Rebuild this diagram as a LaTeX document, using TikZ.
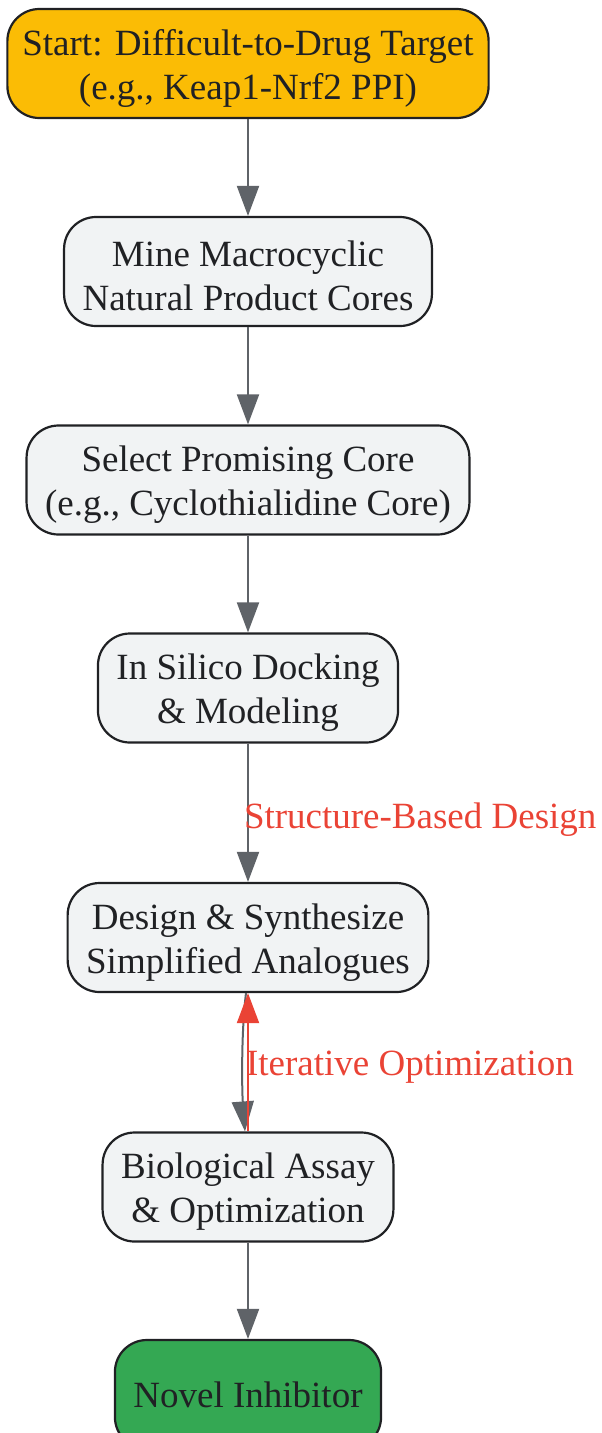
\documentclass[tikz,border=0pt]{standalone}
\usepackage{fontspec}
\setmainfont{Liberation Serif}
\usetikzlibrary{arrows.meta}
\definecolor{startyellow}{HTML}{FBBC05}
\definecolor{endgreen}{HTML}{34A853}
\definecolor{boxgray}{HTML}{F1F3F4}
\definecolor{inkdark}{HTML}{202124}
\definecolor{edgegray}{HTML}{5F6368}
\definecolor{loopred}{HTML}{EA4335}
\begin{document}
\begin{tikzpicture}[x=1pt,y=-1pt,
    stepbox/.style={draw=inkdark, line width=2.2pt, fill=boxgray, rounded corners=32pt,
        align=center, text=inkdark, minimum height=109pt, inner xsep=18.5pt,
        font=\fontsize{37}{44}\selectfont},
    twolines/.style={text height=79pt},
    edge/.style={draw=edgegray, line width=2pt, -{Triangle[length=30pt,width=22pt]}},
    loopedge/.style={draw=loopred, line width=2pt, -{Triangle[length=30pt,width=22pt]}},
    edgelabel/.style={text=loopred, anchor=west, inner sep=0pt, font=\fontsize{37}{44}\selectfont}]
    \useasboundingbox (0,0) rectangle (602,1433);
    \node[stepbox, twolines, fill=startyellow, inner xsep=15pt] (start) at (248,63.5) {Start: Difficult-to-Drug Target\\(e.g., Keap1-Nrf2 PPI)};
    \node[stepbox, twolines] (mine) at (248,271.5) {Mine Macrocyclic\\Natural Product Cores};
    \node[stepbox, twolines] (select) at (248,480) {Select Promising Core\\(e.g., Cyclothialidine Core)};
    \node[stepbox, twolines] (silico) at (248,688) {In Silico Docking\\\& Modeling};
    \node[stepbox, twolines] (design) at (248,937.5) {Design \& Synthesize\\Simplified Analogues};
    \node[stepbox, twolines] (bio) at (248,1187) {Biological Assay\\\& Optimization};
    \node[stepbox, fill=endgreen] (novel) at (248,1394.5) {Novel Inhibitor};
    \draw [edge] (start) -- (mine);
    \draw [edge] (mine) -- (select);
    \draw [edge] (select) -- (silico);
    \draw [edge] (silico) -- node[edgelabel, pos=0.55, xshift=-5pt] {Structure-Based Design} (design);
    \draw [edge] ([xshift=-2pt]design.south) .. controls +(-5,40) and +(-3,-40) .. ([xshift=-3pt]bio.north);
    \draw [loopedge] (bio) -- node[edgelabel, pos=0.465, xshift=-3pt] {Iterative Optimization} (design);
    \draw [edge] (bio) -- (novel);
\end{tikzpicture}
\end{document}
